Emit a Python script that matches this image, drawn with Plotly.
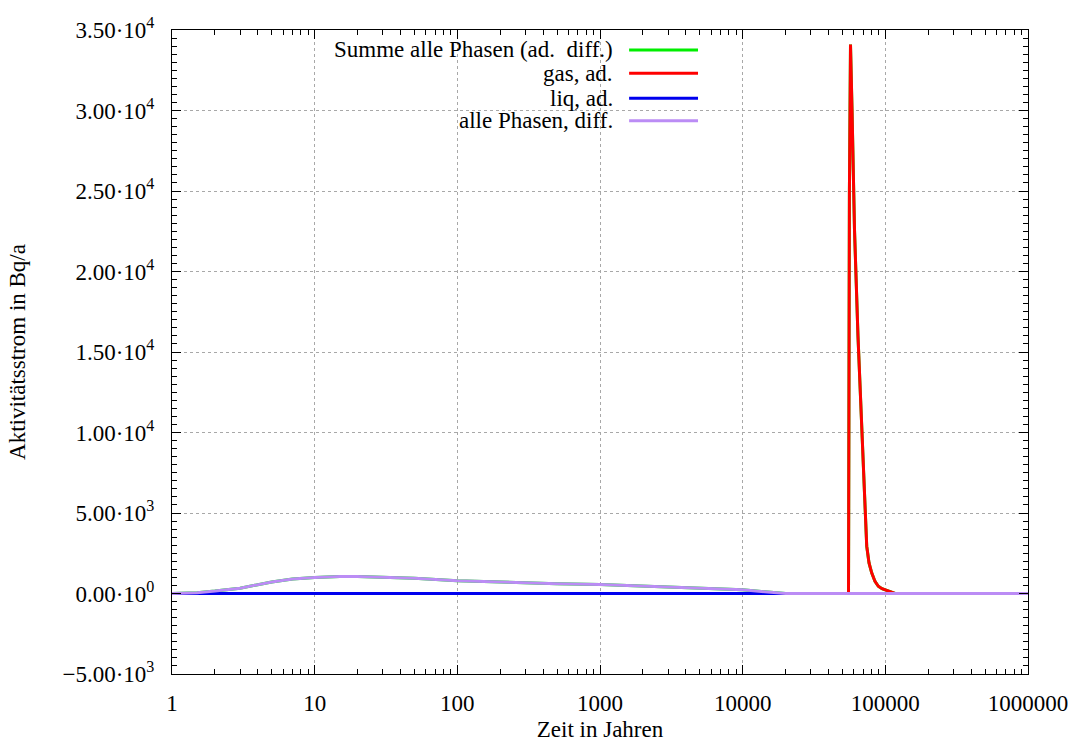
import numpy as np
import plotly.graph_objects as go

# ---- data ----
t_diff = [1, 1.5, 2, 3, 5, 7, 10, 15, 20, 30, 50, 100, 200, 500, 1000, 2000,
          5000, 10000, 15000, 20000, 30000, 100000, 1000000]
v_diff = [0, 50, 150, 330, 720, 900, 990, 1060, 1060, 1020, 950, 790, 700, 610,
          560, 470, 340, 240, 90, 0, 0, 0, 0]

t_gas = [1, 1000, 10000, 54500, 55200, 56000, 57000, 58400, 59630, 60800, 64300,
         68060, 70070, 74050, 76850, 80240, 84630, 89270, 94760, 102200, 116900,
         200000, 1000000]
v_gas = [0, 0, 0, 0, 0, 25000, 34100, 30100, 25100, 22600, 16000,
         10800, 7100, 2940, 1900, 1280, 750, 450, 300, 180, 0,
         0, 0]

t_liq = [1, 10, 100, 1000, 10000, 100000, 1000000]
v_liq = [0, 0, 0, 0, 0, 0, 0]

names = ["Summe alle Phasen (ad.  diff.)", "gas, ad.", "liq, ad.", "alle Phasen, diff."]
colors = ["#00ee00", "#ff0000", "#0000ee", "#bb8cf5"]

xtick_vals = [1, 10, 100, 1000, 10000, 100000, 1000000]
xtick_text = ["1", "10", "100", "1000", "10000", "100000", "1000000"]
ytick_vals = [-5000, 0, 5000, 10000, 15000, 20000, 25000, 30000, 35000]
ytick_text = ["\u22125.00\u00b710<sup>3</sup>", "0.00\u00b710<sup>0</sup>",
              "5.00\u00b710<sup>3</sup>", "1.00\u00b710<sup>4</sup>",
              "1.50\u00b710<sup>4</sup>", "2.00\u00b710<sup>4</sup>",
              "2.50\u00b710<sup>4</sup>", "3.00\u00b710<sup>4</sup>",
              "3.50\u00b710<sup>4</sup>"]

# sum of all phases on a common time grid
t_sum = sorted(set(t_diff) | set(t_gas) | set(t_liq))
lt = np.log10(t_sum)
v_sum = (np.interp(lt, np.log10(t_diff), v_diff)
         + np.interp(lt, np.log10(t_gas), v_gas)
         + np.interp(lt, np.log10(t_liq), v_liq))

series = [(t_sum, list(v_sum)), (t_gas, v_gas), (t_liq, v_liq), (t_diff, v_diff)]

FONT = "Liberation Serif"
FS = 23
fig = go.Figure()
for (tx, vy), nm, col in zip(series, names, colors):
    fig.add_trace(go.Scatter(x=tx, y=vy, mode="lines", name=nm,
                             line=dict(color=col, width=3), showlegend=False))

# gnuplot-style legend: text right-aligned, sample line to the right
fig.add_shape(type="rect", xref="paper", yref="paper", x0=0, x1=0.6226,
              y0=0.837, y1=1.0, fillcolor="white", line=dict(width=0),
              layer="between")
rows_y = [0.969, 0.933, 0.894, 0.859]
for nm, col, ry in zip(names, colors, rows_y):
    fig.add_annotation(xref="paper", yref="paper", x=0.5175, y=ry, text=nm,
                       showarrow=False, xanchor="right", yanchor="middle",
                       font=dict(family=FONT, size=FS, color="black"))
    fig.add_shape(type="line", xref="paper", yref="paper", x0=0.534, x1=0.6145,
                  y0=ry, y1=ry, line=dict(color=col, width=3))

axis_common = dict(showline=True, linecolor="black", linewidth=1, mirror="ticks",
                   ticks="inside", tickcolor="black", ticklen=9,
                   showgrid=True, gridcolor="#a8a8a8", griddash="dot", gridwidth=1,
                   zeroline=False,
                   tickfont=dict(family=FONT, size=FS, color="black"))

fig.update_xaxes(type="log", range=[0, 6], tickvals=xtick_vals, ticktext=xtick_text,
                 minor=dict(ticks="inside", ticklen=5, tickcolor="black", dtick="D1",
                            showgrid=False),
                 title=dict(text="Zeit in Jahren", standoff=11,
                            font=dict(family=FONT, size=FS, color="black")),
                 ticklabelstandoff=8,
                 **axis_common)
fig.update_yaxes(range=[-5000, 35000], tickvals=ytick_vals, ticktext=ytick_text,
                 minor=dict(ticks="inside", ticklen=5, tickcolor="black", dtick=500,
                            showgrid=False),
                 title=dict(text="Aktivitätsstrom in Bq/a", standoff=30,
                            font=dict(family=FONT, size=FS, color="black")),
                 ticklabelstandoff=12,
                 **axis_common)

fig.update_layout(width=1072, height=742, plot_bgcolor="white", paper_bgcolor="white",
                  margin=dict(l=172, r=44, t=30, b=68, autoexpand=False),
                  font=dict(family=FONT, size=FS, color="black"))

fig.write_html("out.html")
